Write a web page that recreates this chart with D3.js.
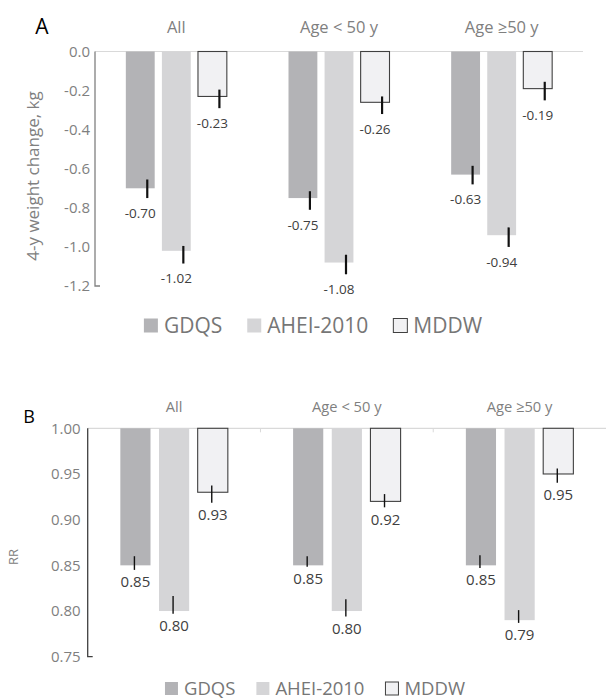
<!DOCTYPE html>
<html>
<head>
<meta charset="utf-8">
<script src="https://cdn.jsdelivr.net/npm/d3@7"></script>
<style>
  body { margin: 0; background: #fff; }
  svg { font-family: 'Open Sans', sans-serif; }
</style>
</head>
<body>
<script>
const groups = ['All', 'Age < 50 y', 'Age ≥50 y']
const series = ['GDQS', 'AHEI-2010', 'MDDW']

// Panel A: 4-y weight change, kg
const weightGDQS = [-0.70, -0.75, -0.63]
const weightAHEI = [-1.02, -1.08, -0.94]
const weightMDDW = [-0.23, -0.26, -0.19]
const weightGDQSCI = [[-0.75, -0.655], [-0.81, -0.715], [-0.68, -0.585]]
const weightAHEICI = [[-1.085, -0.995], [-1.14, -1.04], [-1.0, -0.9]]
const weightMDDWCI = [[-0.29, -0.195], [-0.32, -0.23], [-0.25, -0.155]]
const weightTicks = [0, -0.2, -0.4, -0.6, -0.8, -1.0, -1.2]

// Panel B: RR
const rrGDQS = [0.85, 0.85, 0.85]
const rrAHEI = [0.80, 0.80, 0.79]
const rrMDDW = [0.93, 0.92, 0.95]
const rrGDQSCI = [[0.845, 0.86], [0.8485, 0.86], [0.847, 0.861]]
const rrAHEICI = [[0.797, 0.8165], [0.794, 0.813], [0.787, 0.801]]
const rrMDDWCI = [[0.9185, 0.9375], [0.9135, 0.928], [0.9405, 0.956]]
const rrTicks = [1.0, 0.95, 0.9, 0.85, 0.8, 0.75]

const colors = { GDQS: '#b3b3b6', 'AHEI-2010': '#d5d5d7', MDDW: '#f1f1f3' }

// plain hyphen as minus sign, like the original
const locale = d3.formatLocale({
    decimal: '.',
    thousands: ',',
    grouping: [3],
    currency: ['', ''],
    minus: '-',
})

const buildRows = (values, cis) =>
    groups.flatMap((g, gi) =>
        series.map((s, si) => ({
            group: g,
            series: s,
            value: values[si][gi],
            lo: cis[si][gi][0],
            hi: cis[si][gi][1],
        }))
    )

const svg = d3
    .select('body')
    .append('svg')
    .attr('width', 606)
    .attr('height', 699)

function drawPanel(p) {
    const rows = buildRows(p.values, p.cis)
    const x0 = d3.scaleBand().domain(groups).range([p.left, p.right])
    const x1 = d3
        .scaleBand()
        .domain(series)
        .range([0, p.groupWidth])
        .paddingInner(p.innerPad)
    const y = d3.scaleLinear().domain(p.domain).range([p.bottom, p.top])
    const barX = (d) =>
        x0(d.group) + (x0.bandwidth() - p.groupWidth) / 2 + x1(d.series)
    const barMid = (d) => barX(d) + x1.bandwidth() / 2

    const g = svg.append('g')

    // top baseline
    g.append('line')
        .attr('x1', p.left)
        .attr('x2', p.right)
        .attr('y1', y(p.base))
        .attr('y2', y(p.base))
        .attr('stroke', '#d9d9d9')
        .attr('stroke-width', 1.2)

    if (p.catTicks) {
        g.selectAll('.cat-tick')
            .data(groups.slice(1))
            .enter()
            .append('line')
            .attr('x1', (d) => x0(d))
            .attr('x2', (d) => x0(d))
            .attr('y1', y(p.base))
            .attr('y2', y(p.base) + 4)
            .attr('stroke', '#d9d9d9')
    }

    // bars
    g.selectAll('.bar')
        .data(rows)
        .enter()
        .append('rect')
        .attr('x', barX)
        .attr('width', x1.bandwidth())
        .attr('y', y(p.base))
        .attr('height', (d) => y(d.value) - y(p.base))
        .attr('fill', (d) => colors[d.series])
        .attr('stroke', (d) => (d.series === 'MDDW' ? '#404040' : 'none'))
        .attr('stroke-width', 1.1)

    // error bars
    g.selectAll('.err')
        .data(rows)
        .enter()
        .append('line')
        .attr('x1', (d) => barMid(d) + p.errShift)
        .attr('x2', (d) => barMid(d) + p.errShift)
        .attr('y1', (d) => y(d.hi))
        .attr('y2', (d) => y(d.lo))
        .attr('stroke', '#111')
        .attr('stroke-width', p.errWidth)

    // value labels
    g.selectAll('.val')
        .data(rows)
        .enter()
        .append('text')
        .attr('x', barMid)
        .attr('y', (d) => y(d.lo) + p.labelGap)
        .attr('dy', '0.35em')
        .attr('text-anchor', 'middle')
        .style('font-size', p.valueSize + 'px')
        .style('fill', '#404040')
        .text((d) => locale.format('.2f')(d.value))

    // y axis
    const axis = g
        .append('g')
        .attr('transform', `translate(${p.left},0)`)
        .call(
            d3
                .axisLeft(y)
                .tickValues(p.ticks)
                .tickSize(0)
                .tickPadding(p.tickPad)
                .tickFormat(locale.format(p.fmt))
        )
    axis.select('.domain').remove()
    axis.selectAll('text')
        .style('font-size', p.tickSize + 'px')
        .style('font-family', 'Open Sans, sans-serif')
        .style('fill', '#7f7f7f')

    g.append('path')
        .attr('d', `M${p.left},${y(p.base)}V${p.bottom}H${p.left + 5}`)
        .attr('fill', 'none')
        .attr('stroke', p.axisColor)
        .attr('stroke-width', 1.3)

    // group titles
    g.selectAll('.cat')
        .data(groups)
        .enter()
        .append('text')
        .attr('x', (d) => x0(d) + x0.bandwidth() / 2)
        .attr('y', p.catY)
        .attr('dy', '0.35em')
        .attr('text-anchor', 'middle')
        .style('font-size', p.catSize + 'px')
        .style('fill', '#7f7f7f')
        .text((d) => d)

    // panel letter
    g.append('text')
        .attr('x', p.letterX)
        .attr('y', p.letterY)
        .attr('dy', '0.35em')
        .attr('text-anchor', 'middle')
        .style('font-size', p.letterSize + 'px')
        .style('fill', '#000')
        .text(p.letter)

    // y title
    g.append('text')
        .attr('transform', `translate(${p.titleX},${p.titleY}) rotate(-90)`)
        .attr('dy', '0.35em')
        .attr('text-anchor', 'middle')
        .style('font-size', p.titleSize + 'px')
        .style('fill', '#808080')
        .text(p.title)

    // legend
    const legend = g.append('g')
    let cx = 0
    series.forEach((s) => {
        legend
            .append('rect')
            .attr('x', cx)
            .attr('y', p.legendY - p.swatch / 2)
            .attr('width', p.swatch)
            .attr('height', p.swatch)
            .attr('fill', colors[s])
            .attr('stroke', s === 'MDDW' ? '#404040' : 'none')
            .attr('stroke-width', 1)
        const t = legend
            .append('text')
            .attr('x', cx + p.swatch + 6)
            .attr('y', p.legendY)
            .attr('dy', '0.35em')
            .style('font-size', p.legendSize + 'px')
            .style('fill', '#767676')
            .text(s)
        cx += p.swatch + 6 + t.node().getComputedTextLength() + p.legendGap
    })
    const w = cx - p.legendGap
    legend.attr('transform', `translate(${p.legendCenter - w / 2},0)`)
}

drawPanel({
    values: [weightGDQS, weightAHEI, weightMDDW],
    cis: [weightGDQSCI, weightAHEICI, weightMDDWCI],
    ticks: weightTicks,
    domain: [-1.2, 0],
    base: 0,
    fmt: '.1f',
    left: 95,
    right: 583,
    top: 51.5,
    bottom: 286,
    groupWidth: 101,
    innerPad: 0.2,
    errShift: 7,
    errWidth: 2.2,
    labelGap: 15,
    valueSize: 13.5,
    tickSize: 15,
    tickPad: 5,
    axisColor: '#808080',
    catTicks: false,
    catY: 27,
    catSize: 16.5,
    letter: 'A',
    letterX: 42,
    letterY: 27,
    letterSize: 21,
    title: '4-y weight change, kg',
    titleX: 33,
    titleY: 176,
    titleSize: 17,
    legendY: 325.5,
    swatch: 14,
    legendSize: 21,
    legendGap: 25,
    legendCenter: 313,
})

drawPanel({
    values: [rrGDQS, rrAHEI, rrMDDW],
    cis: [rrGDQSCI, rrAHEICI, rrMDDWCI],
    ticks: rrTicks,
    domain: [0.75, 1.0],
    base: 1.0,
    fmt: '.2f',
    left: 87.7,
    right: 606,
    top: 428.3,
    bottom: 656.7,
    groupWidth: 107.5,
    innerPad: 0.22,
    errShift: -1,
    errWidth: 1.4,
    labelGap: 12,
    valueSize: 15,
    tickSize: 15,
    tickPad: 7,
    axisColor: '#404040',
    catTicks: true,
    catY: 406.5,
    catSize: 14.7,
    letter: 'B',
    letterX: 29,
    letterY: 416.5,
    letterSize: 18,
    title: 'RR',
    titleX: 13,
    titleY: 557,
    titleSize: 13,
    legendY: 688.5,
    swatch: 13,
    legendSize: 18.5,
    legendGap: 21,
    legendCenter: 315,
})
</script>
</body>
</html>
